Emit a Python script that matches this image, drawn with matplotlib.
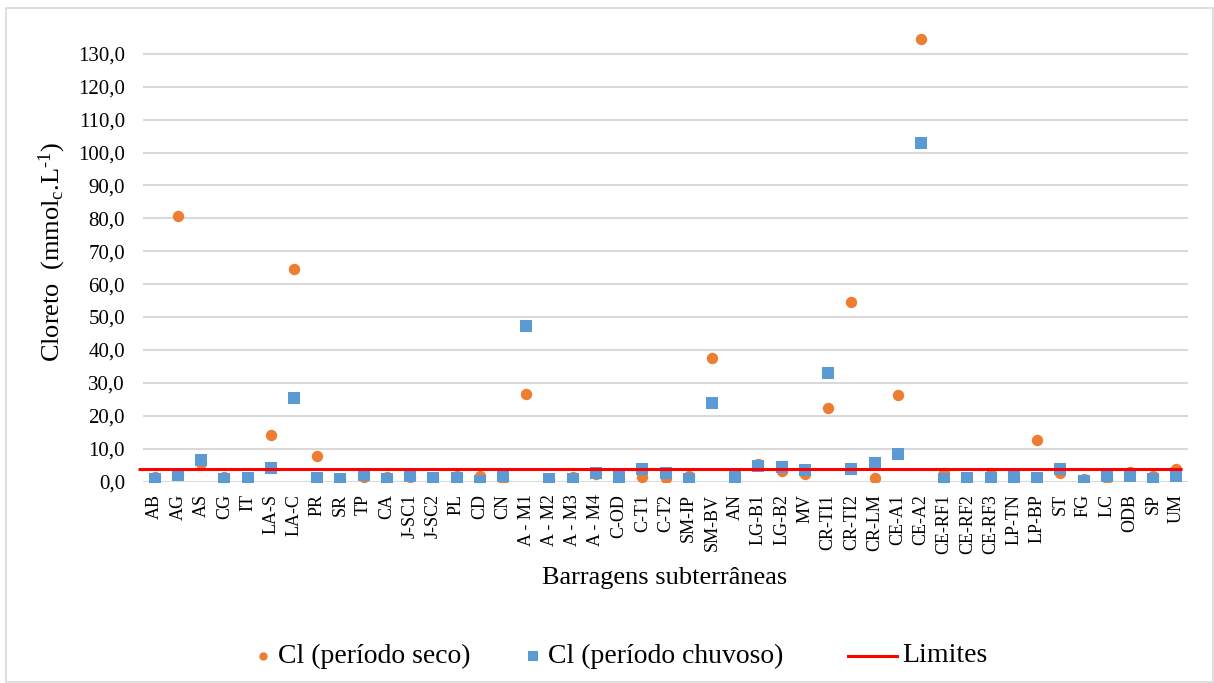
import matplotlib
matplotlib.use("Agg")
import matplotlib.pyplot as plt
from matplotlib.lines import Line2D
from matplotlib.patches import Rectangle
import numpy as np

plt.rcParams["font.family"] = ["Liberation Serif", "DejaVu Serif"]
plt.rcParams["mathtext.fontset"] = "custom"
plt.rcParams["mathtext.rm"] = "Liberation Serif"
plt.rcParams["mathtext.it"] = "Liberation Serif:italic"

# Underground dams (barragens subterrâneas)
categories = [
    "AB", "AG", "AS", "CG", "IT", "LA-S", "LA-C", "PR", "SR", "TP", "CA",
    "J-SC1", "J-SC2", "PL", "CD", "CN", "A - M1", "A - M2", "A - M3", "A - M4",
    "C-OD", "C-T1", "C-T2", "SM-IP", "SM-BV", "AN", "LG-B1", "LG-B2", "MV",
    "CR-TI1", "CR-TI2", "CR-LM", "CE-A1", "CE-A2", "CE-RF1", "CE-RF2", "CE-RF3",
    "LP-TN", "LP-BP", "ST", "FG", "LC", "ODB", "SP", "UM",
]

# Chloride, mmolc/L, dry season
cl_seco = [
    1.4, 80.8, 5.5, 1.5, 1.0, 14.0, 64.5, 7.7, 0.7, 1.5, 1.5,
    1.5, 1.0, 1.7, 1.8, 0.9, 26.5, 0.8, 1.5, 2.2,
    1.2, 1.5, 1.0, 1.8, 37.5, 1.0, 5.2, 3.3, 2.3,
    22.3, 54.5, 1.1, 26.3, 134.4, 2.7, 0.8, 2.4,
    0.7, 12.7, 2.6, 0.9, 1.0, 3.0, 1.8, 3.7,
]

# Chloride, mmolc/L, rainy season
cl_chuvoso = [
    0.8, 2.0, 6.4, 0.8, 1.2, 4.2, 25.5, 1.1, 0.8, 2.1, 0.8,
    1.6, 1.1, 1.1, 0.3, 1.8, 47.2, 0.9, 0.9, 2.5,
    1.3, 3.7, 2.6, 0.7, 23.9, 1.5, 4.6, 4.5, 3.4,
    33.0, 3.7, 5.6, 8.5, 103.0, 0.9, 1.2, 1.2,
    1.4, 1.1, 3.9, 0.3, 1.6, 1.7, 0.9, 1.6,
]

# Reference limit for chloride
limite = 3.7

y_ticks = [0, 10, 20, 30, 40, 50, 60, 70, 80, 90, 100, 110, 120, 130]
y_tick_labels = [f"{v:.1f}".replace(".", ",") for v in y_ticks]

ORANGE = "#ED7D31"
BLUE = "#5B9BD5"
RED = "#FF0000"
GRID = "#D9D9D9"

W, H = 1214, 683
fig = plt.figure(figsize=(W / 100, H / 100), dpi=100)
fig.patch.set_facecolor("white")


def fx(px):
    return px / W


def fy(py):
    return 1 - py / H


ax = fig.add_axes([fx(143), fy(481.5), fx(1188) - fx(143), fy(30.8) - fy(481.5)])

x = np.arange(len(categories))
ax.plot(x, cl_seco, linestyle="none", marker="o", ms=8.2, mew=0,
        color=ORANGE, zorder=3)
ax.plot(x, cl_chuvoso, linestyle="none", marker="s", ms=8.2, mew=0,
        color=BLUE, zorder=4)
ax.plot([-0.72, len(categories) - 0.75], [limite, limite], color=RED,
        lw=2.2, zorder=5, clip_on=False, solid_capstyle="butt")

ax.set_xlim(-0.5, len(categories) - 0.5)
ax.set_ylim(0, 137)
ax.set_yticks(y_ticks)
ax.set_yticklabels(y_tick_labels, fontsize=15)
ax.set_xticks(x)
ax.set_xticklabels(categories, rotation=90, fontsize=13)
ax.tick_params(axis="both", length=0)
ax.tick_params(axis="y", pad=13)
ax.tick_params(axis="x", pad=9)

ax.yaxis.grid(True, color=GRID, lw=1.5)
ax.set_axisbelow(True)
for s in ax.spines.values():
    s.set_visible(False)

ax.set_xlabel("Barragens subterrâneas", fontsize=19)
ax.xaxis.set_label_coords(0.4995, -0.19)
ax.set_ylabel(r"Cloreto  (mmol$_\mathregular{c}$.L$^{\text{-1}}$)", fontsize=19)
ax.yaxis.set_label_coords(-0.072, 0.51)

# Legend row along the bottom
ly = fy(656)
fig.add_artist(Line2D([fx(263)], [ly], marker="o", ms=6, mew=0,
                      color=ORANGE, linestyle="none", transform=fig.transFigure))
fig.text(fx(278), ly, "Cl (período seco)", fontsize=20, va="center", ha="left")
fig.add_artist(Line2D([fx(533)], [ly], marker="s", ms=7.5, mew=0,
                      color=BLUE, linestyle="none", transform=fig.transFigure))
fig.text(fx(548), ly, "Cl (período chuvoso)", fontsize=20, va="center", ha="left")
fig.add_artist(Line2D([fx(848), fx(897)], [ly, ly], color=RED, lw=2.2,
                      transform=fig.transFigure))
fig.text(fx(902), ly, "Limites", fontsize=20, va="center", ha="left")

# Chart-area border
fig.add_artist(Rectangle((fx(6), fy(682)), fx(1213) - fx(6), fy(8) - fy(682),
                         transform=fig.transFigure, fill=False,
                         edgecolor=GRID, lw=1.2))

fig.savefig("out.png", dpi=100, facecolor="white")
